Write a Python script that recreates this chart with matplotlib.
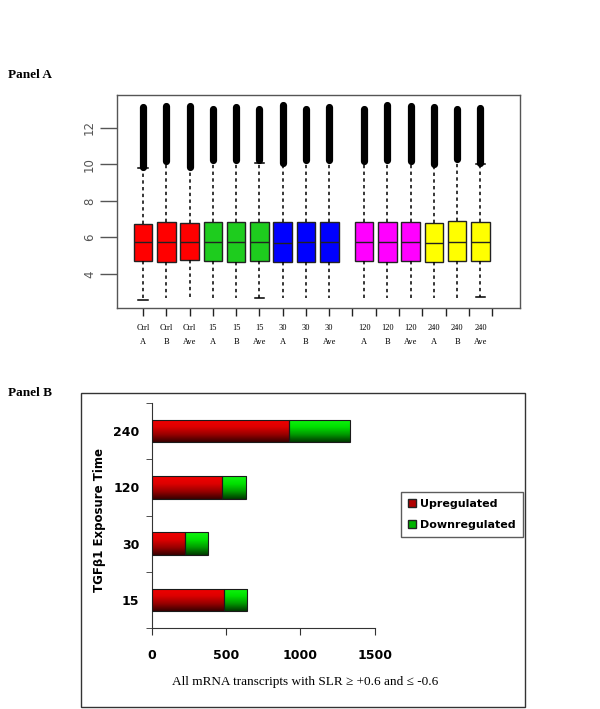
import numpy as np
import matplotlib.pyplot as plt
from matplotlib.patches import Rectangle, Patch
from matplotlib.colors import LinearSegmentedColormap

# ---- Panel A: boxplot data ----
lab_top = ['Ctrl', 'Ctrl', 'Ctrl', '15', '15', '15', '30', '30', '30',
           '120', '120', '120', '240', '240', '240']
lab_bot = ['A', 'B', 'Ave'] * 5
positions = [1, 2, 3, 4, 5, 6, 7, 8, 9, 10.5, 11.5, 12.5, 13.5, 14.5, 15.5]
whislo = [2.58, 2.67, 2.67, 2.67, 2.67, 2.67, 2.67, 2.67, 2.67, 2.67, 2.67, 2.67, 2.67, 2.67, 2.73]
q1 = [4.71, 4.64, 4.77, 4.70, 4.66, 4.70, 4.67, 4.67, 4.67, 4.70, 4.66, 4.70, 4.66, 4.70, 4.70]
med = [5.77, 5.77, 5.77, 5.77, 5.77, 5.77, 5.71, 5.77, 5.77, 5.77, 5.77, 5.77, 5.71, 5.77, 5.77]
q3 = [6.74, 6.87, 6.78, 6.87, 6.87, 6.87, 6.87, 6.87, 6.87, 6.87, 6.87, 6.87, 6.82, 6.92, 6.87]
whishi = [9.8, 10.1, 9.8, 10.1, 10.1, 10.1, 10.0, 10.1, 10.1, 10.1, 10.1, 10.1, 9.95, 10.15, 10.0]
# outliers form a solid black column: lowest and highest outlier per box
fl_lo = [9.86, 10.18, 9.86, 10.22, 10.22, 10.22, 10.09, 10.22, 10.22, 10.18, 10.22, 10.18, 10.04, 10.27, 10.09]
fl_hi = [13.14, 13.20, 13.20, 13.05, 13.14, 13.05, 13.23, 13.05, 13.14, 13.05, 13.27, 13.20, 13.14, 13.05, 13.09]
has_cap = [1, 0, 0, 0, 0, 1, 0, 0, 0, 0, 0, 0, 0, 0, 1]
box_colors = ['#ff0000'] * 3 + ['#1ecc1e'] * 3 + ['#0000ff'] * 3 + ['#ff00ff'] * 3 + ['#ffff00'] * 3

# ---- Panel B: stacked bar data ----
times = ['15', '30', '120', '240']
upreg = [483, 223, 471, 920]
downreg = [157, 153, 164, 411]

serif = 'Liberation Serif'

fig = plt.figure(figsize=(6, 7.09), dpi=100)

# ================= Panel A =================
axa = fig.add_axes([117 / 600, 1 - 308 / 709, 403 / 600, 213 / 709])
stats = []
for i in range(len(positions)):
    stats.append(dict(whislo=whislo[i], q1=q1[i], med=med[i], q3=q3[i], whishi=whishi[i], fliers=[]))
capw = [0.4 if c else 0.0 for c in has_cap]
bp = axa.bxp(stats, positions=positions, widths=0.8, patch_artist=True, showfliers=False,
             capwidths=capw,
             boxprops=dict(edgecolor='#222222', linewidth=1),
             whiskerprops=dict(color='black', linewidth=1.1, linestyle=(0, (2.2, 2.2))),
             capprops=dict(color='black', linewidth=1.1),
             medianprops=dict(color='#222222', linewidth=1))
for patch, c in zip(bp['boxes'], box_colors):
    patch.set_facecolor(c)
fl = axa.vlines(positions, fl_lo, fl_hi, color='black', linewidth=5.2, zorder=3)
fl.set_capstyle('round')

axa.set_xlim(-0.12, 17.2)
axa.set_ylim(2.14, 13.8)
axa.set_xticks(range(1, 17))
axa.set_xticklabels([])
axa.set_yticks([4, 6, 8, 10, 12])
axa.tick_params(axis='y', length=12, width=1, color='#555555', labelsize=8.5,
                labelcolor='#555555', labelrotation=90, pad=3)
for t in axa.get_yticklabels():
    t.set_va('center')
axa.tick_params(axis='x', length=6, width=1, color='#222222')
for s in axa.spines.values():
    s.set_color('#555555')
    s.set_linewidth(1)

xt = axa.get_xaxis_transform()
for p, a, b in zip(positions, lab_top, lab_bot):
    axa.text(p, -0.094, a, transform=xt, ha='center', va='center', fontsize=6, family=serif)
    axa.text(p, -0.160, b, transform=xt, ha='center', va='center', fontsize=6, family=serif)

fig.text(8 / 600, 1 - 75 / 709, 'Panel A', family=serif, fontweight='bold', fontsize=9.5, va='center')
fig.text(8 / 600, 1 - 393 / 709, 'Panel B', family=serif, fontweight='bold', fontsize=9.5, va='center')

# ================= Panel B =================
fig.add_artist(Rectangle((80.5 / 600, 2 / 709), 444.5 / 600, 314 / 709, transform=fig.transFigure,
                         fill=False, edgecolor='#333333', linewidth=1))

axb = fig.add_axes([152 / 600, 1 - 628 / 709, 222.6 / 600, 225 / 709])
ypos = np.arange(len(times))
b_up = axb.barh(ypos, upreg, height=0.4, color='#b00000', edgecolor='none', zorder=2)
b_dn = axb.barh(ypos, downreg, left=upreg, height=0.4, color='#00b000', edgecolor='none', zorder=2)

red_cm = LinearSegmentedColormap.from_list('rg', ['#3a0000', '#9a0000', '#dd0000', '#f20000'])
grn_cm = LinearSegmentedColormap.from_list('gg', ['#003a00', '#009a00', '#00e000', '#10f510'])
grad = np.linspace(0, 1, 64).reshape(-1, 1)
for bars, cm in [(b_up, red_cm), (b_dn, grn_cm)]:
    for p in bars:
        x0, y0 = p.get_x(), p.get_y()
        im = axb.imshow(grad, cmap=cm, origin='lower', aspect='auto', interpolation='bilinear',
                        extent=(x0, x0 + p.get_width(), y0, y0 + p.get_height()), zorder=2.5)
        im.set_clip_path(p)
axb.barh(ypos, upreg, height=0.4, fill=False, edgecolor='#1a1a1a', linewidth=0.8, zorder=3)
axb.barh(ypos, downreg, left=upreg, height=0.4, fill=False, edgecolor='#1a1a1a', linewidth=0.8, zorder=3)

axb.set_xlim(0, 1500)
axb.set_ylim(-0.5, 3.5)
axb.set_xticks([0, 500, 1000, 1500])
axb.set_yticks(ypos)
axb.set_yticklabels(times)
axb.set_yticks(np.arange(-0.5, 4, 1), minor=True)
axb.tick_params(axis='y', which='major', length=0, pad=9)
axb.tick_params(axis='y', which='minor', length=4, color='#333333')
axb.tick_params(axis='x', length=5, color='#333333', pad=10)
for t in axb.get_xticklabels() + axb.get_yticklabels():
    t.set_fontweight('bold')
    t.set_fontsize(9)
for s in ['top', 'right']:
    axb.spines[s].set_visible(False)
for s in ['left', 'bottom']:
    axb.spines[s].set_color('#333333')

fig.text(100 / 600, 1 - 520 / 709, 'TGF\u03b21 Exposure Time', rotation=90, ha='center', va='center',
         fontweight='bold', fontsize=8.5)
fig.text(305 / 600, 1 - 682 / 709, 'All mRNA transcripts with SLR \u2265 +0.6 and \u2264 -0.6',
         ha='center', va='center', family=serif, fontsize=9.5)

handles = [Patch(facecolor='#b00000', edgecolor='#222222', label='Upregulated'),
           Patch(facecolor='#00b400', edgecolor='#222222', label='Downregulated')]
fig.legend(handles=handles, loc='upper left', bbox_to_anchor=(400.7 / 600, 1 - 491.7 / 709),
           frameon=True, fancybox=False, edgecolor='#333333', borderaxespad=0,
           handlelength=0.75, handleheight=0.75, handletextpad=0.4, labelspacing=1.05,
           borderpad=0.62, prop=dict(weight='bold', size=8))

fig.savefig('out.png', dpi=100)
